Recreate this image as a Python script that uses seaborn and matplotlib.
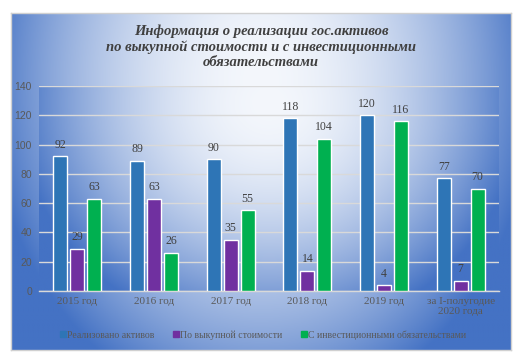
import numpy as np
import pandas as pd
import matplotlib
matplotlib.use("Agg")
import matplotlib.pyplot as plt
import seaborn as sns
from matplotlib.lines import Line2D
from matplotlib.colors import to_rgb

categories = ['2015 год', '2016 год', '2017 год', '2018 год', '2019 год', 'за I-полугодие\n2020 года']
series_names = ['Реализовано активов', 'По выкупной стоимости', 'С инвестиционными обязательствами']
realized = [92, 89, 90, 118, 120, 77]
buyout = [29, 63, 35, 14, 4, 7]
invest = [63, 26, 55, 104, 116, 70]
colors = ['#2E75B6', '#7030A0', '#00B050']
title = 'Информация о реализации гос.активов\nпо выкупной стоимости и с инвестиционными\nобязательствами'

sns.set_theme(style='white')
plt.rcParams['font.family'] = ['Liberation Serif', 'DejaVu Serif']

W, H = 523, 363
fig = plt.figure(figsize=(W / 100, H / 100), dpi=100)
fig.patch.set_facecolor('white')


def gradient(nx, ny, cx, cy, rx, ry, power=1.0):
    # row 0 = top of the drawn image
    x = np.linspace(0, 1, nx)
    y = np.linspace(0, 1, ny)
    X, Y = np.meshgrid(x, y)
    d = np.sqrt(((X - cx) / rx) ** 2 + ((Y - cy) / ry) ** 2)
    t = np.clip(d, 0, 1) ** power
    c0 = np.array(to_rgb('#F4F7FC'))
    c1 = np.array(to_rgb('#4472C4'))
    return c0[None, None, :] * (1 - t[..., None]) + c1[None, None, :] * t[..., None]


# chart area background
x0, y0, x1, y1 = 11, 13, 511, 350
bg = fig.add_axes([x0 / W, 1 - y1 / H, (x1 - x0) / W, (y1 - y0) / H])
bg.imshow(gradient(300, 200, 0.5, 0.2, 0.55, 1.0, 1.9), extent=[0, 1, 1, 0], aspect='auto')
bg.set_xlim(0, 1); bg.set_ylim(1, 0)
bg.set_xticks([]); bg.set_yticks([])
for s in bg.spines.values():
    s.set_color('#D0D0D0'); s.set_linewidth(1)

# plot area
px0, py0, px1, py1 = 39, 86, 499, 291
ax = fig.add_axes([px0 / W, 1 - py1 / H, (px1 - px0) / W, (py1 - py0) / H])
ax.imshow(gradient(300, 200, 0.5, 0.08, 0.55, 1.15, 1.9), extent=[0, 1, 0, 1], aspect='auto',
          transform=ax.transAxes, zorder=0, origin='upper')

df = pd.DataFrame({
    'cat': categories * 3,
    'series': sum([[n] * len(categories) for n in series_names], []),
    'val': realized + buyout + invest,
})
sns.barplot(data=df, x='cat', y='val', hue='series', order=categories, hue_order=series_names,
            palette=colors, width=0.665, gap=0.18, ax=ax, legend=False, zorder=3,
            saturation=1, errorbar=None)

ax.set_ylim(0, 140)
ax.set_xlim(-0.5, len(categories) - 0.5)
ax.set_yticks(range(0, 141, 20))
ax.yaxis.grid(True, color='#D9D9D9', linewidth=1.0, zorder=1)
ax.set_axisbelow(True)
for s in ['top', 'right', 'left']:
    ax.spines[s].set_visible(False)
ax.spines['bottom'].set_color('#D9D9D9')
ax.spines['bottom'].set_linewidth(1.0)
ax.set_xlabel(''); ax.set_ylabel('')
ax.tick_params(axis='both', length=0, colors='#595959')
ax.tick_params(axis='y', pad=5)
ax.tick_params(axis='x', pad=4)
for lab in ax.get_yticklabels():
    lab.set_fontfamily(['Liberation Sans', 'DejaVu Sans'])
    lab.set_fontsize(7.5)
for lab in ax.get_xticklabels():
    lab.set_fontsize(8)
    lab.set_linespacing(1.2)

for cont in ax.containers:
    ax.bar_label(cont, padding=4, fontsize=8.5, color='#404040')

handles = [Line2D([], [], marker='s', linestyle='', markersize=4, color=c) for c in colors]
fig.legend(handles, series_names, loc='center', bbox_to_anchor=(263 / W, 1 - 335 / H), ncol=3,
           frameon=False, fontsize=7, handlelength=0.5, handletextpad=0.15, columnspacing=2.0,
           labelcolor='#595959')

fig.text(261 / W, 1 - 47 / H, title, ha='center', va='center', fontsize=10.5, fontweight='bold',
         fontstyle='italic', color='#404040', linespacing=1.2)

fig.savefig('out.png', dpi=100)
